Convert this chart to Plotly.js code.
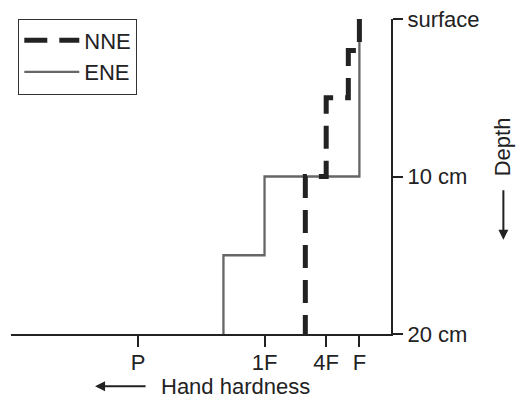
<!DOCTYPE html>
<html>
<head>
<meta charset="utf-8">
<script src="https://cdn.plot.ly/plotly-3.0.1.min.js"></script>
<style>html,body{margin:0;padding:0;background:#fff;}#chart{width:516px;height:399px;}</style>
</head>
<body>
<div id="chart"></div>
<script>
// Hand hardness index (F=1, 4F~2, 1F~4, P~8) versus depth (cm)
var hardnessTicks = [1, 2.05, 4, 8];
var hardnessLabels = ['F', '4F', '1F', 'P'];
var depthTicks = [0, 10, 20];
var depthLabels = ['surface', '10 cm', '20 cm'];

// step profiles: hardness of the layer that starts at each depth
var nneDepth = [0, 2, 5, 10, 20];
var nneHardness = [1, 1.35, 2.05, 2.71, 2.71];
var eneDepth = [0, 10, 15, 20];
var eneHardness = [1, 4, 5.3, 5.3];

var FONT = 'Liberation Sans, Arial, Helvetica, sans-serif';
var FS = 22;

var traces = [
  {
    name: 'ENE', x: eneHardness, y: eneDepth, mode: 'lines', type: 'scatter',
    line: {shape: 'vh', color: '#666666', width: 2.3}
  },
  {
    name: 'NNE', x: nneHardness, y: nneDepth, mode: 'lines', type: 'scatter',
    line: {shape: 'vh', color: '#222222', width: 5, dash: '23px,12px'}
  }
];

function px(xp) { return (xp - 11) / 379.7; }
function py(yp) { return 1 - (yp - 19) / 315.3; }

var layout = {
  width: 516, height: 399,
  margin: {l: 11, r: 125.3, t: 19, b: 64.7, pad: 0},
  paper_bgcolor: '#ffffff', plot_bgcolor: '#ffffff',
  font: {family: FONT, size: FS, color: '#222222'},
  showlegend: true,
  legend: {
    x: px(18.3), y: py(18.5), xanchor: 'left', yanchor: 'top',
    traceorder: 'reversed', itemwidth: 55,
    bgcolor: '#ffffff', bordercolor: '#333333', borderwidth: 1,
    font: {family: FONT, size: FS, color: '#222222'}
  },
  xaxis: {
    range: [12.02, 0], showgrid: false, zeroline: false,
    showline: true, linecolor: '#222222', linewidth: 2,
    ticks: 'outside', ticklen: 11, tickwidth: 2, tickcolor: '#222222',
    ticklabelstandoff: -3,
    tickvals: hardnessTicks, ticktext: hardnessLabels,
    tickfont: {family: FONT, size: FS, color: '#222222'}
  },
  yaxis: {
    range: [20, 0], side: 'right', showgrid: false, zeroline: false,
    showline: true, linecolor: '#222222', linewidth: 2,
    ticks: 'outside', ticklen: 10, tickwidth: 2, tickcolor: '#222222',
    tickvals: depthTicks, ticktext: depthLabels,
    tickfont: {family: FONT, size: FS, color: '#222222'}
  },
  annotations: [
    {xref: 'paper', yref: 'paper', x: px(235), y: py(387), xanchor: 'center', yanchor: 'middle',
     borderpad: 0, text: 'Hand hardness', showarrow: false, font: {family: FONT, size: FS, color: '#222222'}},
    {xref: 'paper', yref: 'paper', x: px(95), y: py(386.7), text: '', showarrow: true,
     ax: 52, ay: 0, arrowhead: 2, arrowsize: 1, arrowwidth: 2, arrowcolor: '#222222'},
    {xref: 'paper', yref: 'paper', x: px(502), y: py(147), xanchor: 'center', yanchor: 'middle',
     textangle: -90, text: 'Depth', showarrow: false, font: {family: FONT, size: FS, color: '#222222'}},
    {xref: 'paper', yref: 'paper', x: px(503), y: py(240), text: '', showarrow: true,
     ax: 0, ay: -51, arrowhead: 2, arrowsize: 1, arrowwidth: 2, arrowcolor: '#222222'}
  ]
};

Plotly.newPlot('chart', traces, layout, {displayModeBar: false, staticPlot: true});
</script>
</body>
</html>
